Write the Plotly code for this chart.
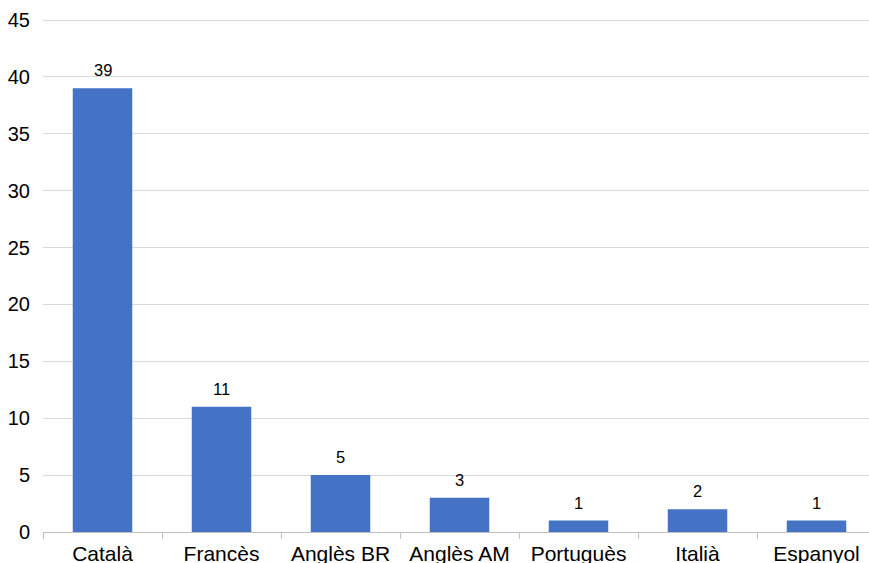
import plotly.graph_objects as go

# Language counts
languages = ["Català", "Francès", "Anglès BR", "Anglès AM", "Portuguès", "Italià", "Espanyol"]
counts = [39, 11, 5, 3, 1, 2, 1]
y_ticks = [0, 5, 10, 15, 20, 25, 30, 35, 40, 45]

FONT = "Liberation Sans, Arial, sans-serif"

fig = go.Figure(
    go.Bar(
        x=languages,
        y=counts,
        marker=dict(color="#4472C4", line=dict(width=0)),
        width=0.5,
        hoverinfo="x+y",
    )
)

# Value labels above each bar
for lang, c in zip(languages, counts):
    fig.add_annotation(
        x=lang,
        y=c,
        text=str(c),
        showarrow=False,
        yanchor="bottom",
        yshift=7,
        font=dict(size=16.5, color="#000000", family=FONT),
    )

fig.update_layout(
    width=869,
    height=563,
    margin=dict(l=43, r=0, t=19, b=31),
    paper_bgcolor="white",
    plot_bgcolor="white",
    showlegend=False,
    font=dict(family=FONT, size=20, color="#000000"),
    xaxis=dict(
        range=[-0.5, 6.441],
        showgrid=False,
        showline=True,
        linecolor="#bfbfbf",
        linewidth=1,
        ticks="outside",
        tickson="boundaries",
        ticklen=6,
        tickcolor="#bfbfbf",
        tickfont=dict(size=21),
        ticklabelstandoff=3,
        automargin=False,
        fixedrange=True,
    ),
    yaxis=dict(
        range=[0, 45.09],
        tickvals=y_ticks,
        showgrid=True,
        gridcolor="#d9d9d9",
        gridwidth=1,
        zeroline=False,
        showline=False,
        ticks="",
        ticklabelstandoff=12,
        tickfont=dict(size=20),
        automargin=False,
    ),
)

fig.write_html("out.html")
